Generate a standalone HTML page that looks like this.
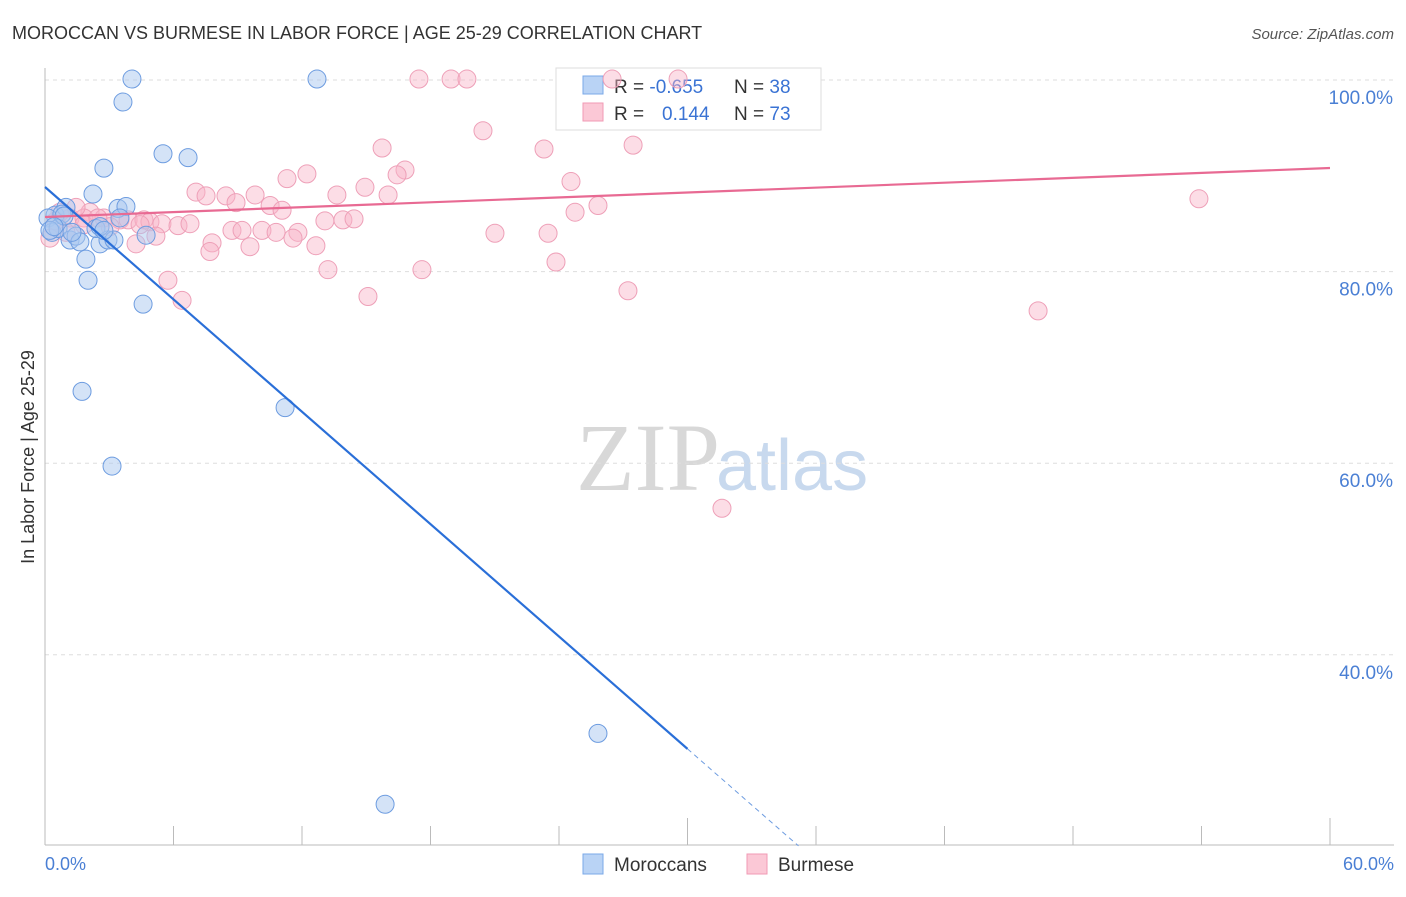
<!DOCTYPE html>
<html><head><meta charset="utf-8"><style>
body{margin:0;background:#fff;font-family:"Liberation Sans",sans-serif}
</style></head><body>
<svg width="1406" height="892" viewBox="0 0 1406 892">
<text x="12" y="39" font-size="18" fill="#333">MOROCCAN VS BURMESE IN LABOR FORCE | AGE 25-29 CORRELATION CHART</text>
<text x="1394" y="39" font-size="15" fill="#555" font-style="italic" text-anchor="end">Source: ZipAtlas.com</text>
<text x="720" y="490" font-size="96" font-family="Liberation Serif,serif" fill="#d8d8d8" text-anchor="end">ZIP</text>
<text x="716" y="490" font-size="72" fill="#c8d9ee">atlas</text>
<g id="grid"></g>
<line x1="45" y1="68" x2="45" y2="845" stroke="#bbb"/>
<line x1="45" y1="845" x2="1394" y2="845" stroke="#bbb"/>
<g id="ticks"></g>
<text x="45" y="870" font-size="18" fill="#4a7fd4">0.0%</text>
<text x="1394" y="870" font-size="18" fill="#4a7fd4" text-anchor="end">60.0%</text>
<text transform="translate(34,457) rotate(-90)" font-size="18" fill="#333" text-anchor="middle">In Labor Force | Age 25-29</text>
<g>
<rect x="556" y="68" width="265" height="62" fill="#fff" stroke="#ddd"/>
<rect x="583" y="76" width="20" height="18" fill="#b9d3f5" stroke="#7aa8e8"/>
<rect x="583" y="103" width="20" height="18" fill="#fbc8d6" stroke="#f09ab4"/>
<text x="614" y="93" font-size="19" fill="#333">R = <tspan fill="#3a73d4">-0.655</tspan><tspan x="734">N = </tspan><tspan fill="#3a73d4">38</tspan></text>
<text x="614" y="120" font-size="19" fill="#333">R = <tspan x="662" fill="#3a73d4">0.144</tspan><tspan x="734">N = </tspan><tspan fill="#3a73d4">73</tspan></text>
</g>
<g id="pts"></g>
<g id="trend"></g>
<g>
<rect x="583" y="854" width="20" height="20" fill="#b9d3f5" stroke="#7aa8e8"/>
<text x="614" y="871" font-size="19" fill="#333">Moroccans</text>
<rect x="747" y="854" width="20" height="20" fill="#fbc8d6" stroke="#f09ab4"/>
<text x="778" y="871" font-size="19" fill="#333">Burmese</text>
</g>
</svg>
<script>
const yTicks=[100,80,60,40];
const xTicks=[0,6,12,18,24,30,36,42,48,54,60];
const moroccanX=[4.06,12.70,3.64,5.51,6.68,2.75,2.24,3.41,3.78,0.47,0.14,0.98,0.79,0.33,0.61,1.17,1.45,1.63,2.57,2.38,2.94,3.22,4.72,1.91,2.01,4.58,1.73,11.21,3.13,25.82,15.88,0.89,1.26,2.57,0.23,3.50,2.75,0.42];
const moroccanY=[100.1,100.1,97.7,92.3,91.9,90.8,88.1,86.6,86.8,85.9,85.6,86.7,86.0,84.1,84.5,83.3,83.7,83.1,82.9,84.5,83.3,83.3,83.8,81.3,79.1,76.6,67.5,65.8,59.7,31.8,24.4,85.8,84.1,84.7,84.3,85.6,84.3,84.7];
const burmeseX=[26.48,17.46,18.96,19.70,29.56,20.45,15.74,27.46,23.30,16.81,16.44,11.30,12.23,24.56,14.94,7.05,8.45,9.81,13.63,16.02,8.92,7.52,10.51,11.07,25.82,24.75,53.88,1.17,2.10,2.75,3.50,3.88,4.62,4.90,5.46,6.21,6.77,8.73,9.20,10.13,10.79,11.81,13.07,13.91,14.43,11.58,12.65,5.18,4.25,7.80,7.70,9.57,21.01,23.49,13.21,17.60,23.86,5.74,6.40,15.08,27.22,46.37,31.61,0.23,0.51,1.82,0.98,3.04,1.82,0.70,2.47,1.45,4.44];
const burmeseY=[100.1,100.1,100.1,100.1,100.1,94.7,92.9,93.2,92.8,90.6,90.1,89.7,90.2,89.4,88.8,88.3,87.9,88.0,88.0,88.0,87.2,87.9,86.9,86.4,86.9,86.2,87.6,85.6,86.2,85.6,85.4,85.4,85.4,85.2,85.0,84.8,85.0,84.3,84.3,84.3,84.1,84.1,85.3,85.4,85.5,83.5,82.7,83.7,82.9,83.0,82.1,82.6,84.0,84.0,80.2,80.2,81.0,79.1,77.0,77.4,78.0,75.9,55.3,83.5,85.3,85.6,84.1,84.7,84.9,86.2,85.6,86.7,84.9];
const trendBlue=[88.83,-1.955];
const trendPink=[85.7,0.0852];
const X=v=>45+v*1285/60, Y=v=>80+(100-v)*9.58;
const NS='http://www.w3.org/2000/svg';
function mk(t,a,p){const e=document.createElementNS(NS,t);for(const k in a)e.setAttribute(k,a[k]);p.appendChild(e);return e;}
const grid=document.getElementById('grid');
yTicks.forEach(v=>{
const l=mk('line',{x1:45,x2:1394,y1:Y(v),y2:Y(v),stroke:'#ddd','stroke-dasharray':'4,4'},grid);


const t=mk('text',{x:1393,y:Y(v)+24,'font-size':19,fill:'#4a7fd4','text-anchor':'end'},grid);
t.textContent=v.toFixed(1)+'%';


});
const tk=document.getElementById('ticks');
xTicks.forEach((v,i)=>{
const l=mk('line',{x1:X(v),x2:X(v),y1:(i==5||i==10)?818:826,y2:845,stroke:'#bbb'},tk);


});
const pts=document.getElementById('pts');
burmeseX.forEach((x,i)=>{
const c=mk('circle',{cx:X(x),cy:Y(burmeseY[i]),r:9,fill:'rgba(248,180,200,0.45)',stroke:'#eea0b8','stroke-width':1},pts);


});
moroccanX.forEach((x,i)=>{
const c=mk('circle',{cx:X(x),cy:Y(moroccanY[i]),r:9,fill:'rgba(170,200,240,0.5)',stroke:'#6d9ce0','stroke-width':1},pts);


});
const tr=document.getElementById('trend');
let l=mk('line',{x1:X(0),y1:Y(trendPink[0]),x2:X(60),y2:Y(trendPink[0]+60*trendPink[1]),stroke:'#e86a93','stroke-width':2.2},tr);


l=mk('line',{x1:X(0),y1:Y(trendBlue[0]),x2:X(30),y2:Y(trendBlue[0]+30*trendBlue[1]),stroke:'#2a6fd8','stroke-width':2.2},tr);


const xe=(20.05-trendBlue[0])/trendBlue[1];
l=mk('line',{x1:X(30),y1:Y(trendBlue[0]+30*trendBlue[1]),x2:X(xe),y2:Y(20.05),stroke:'#6d9ce0','stroke-width':1,'stroke-dasharray':'5,4'},tr);


</script>
</body></html>
